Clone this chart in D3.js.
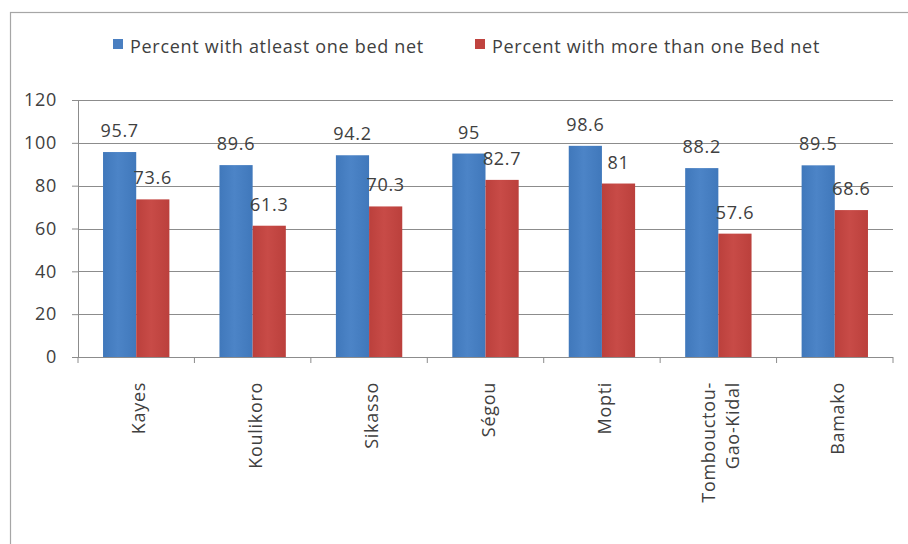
<!DOCTYPE html>
<html>
<head>
<meta charset="utf-8">
<script src="https://cdn.jsdelivr.net/npm/d3@7"></script>
<style>
  html, body { margin: 0; padding: 0; background: #fff; }
  svg { display: block; font-family: "Open Sans", "Liberation Sans", sans-serif; }
  svg text { letter-spacing: 0.7px; }
</style>
</head>
<body>
<svg id="chart" width="908" height="544"></svg>
<script>
// Bed net ownership by region
const regions = ["Kayes", "Koulikoro", "Sikasso", "Ségou", "Mopti", "Tombouctou-\nGao-Kidal", "Bamako"];
const atLeastOne = [95.7, 89.6, 94.2, 95, 98.6, 88.2, 89.5];
const moreThanOne = [73.6, 61.3, 70.3, 82.7, 81, 57.6, 68.6];
const seriesNames = ["Percent with atleast one bed net", "Percent with more than one Bed net"];
const yTicks = [0, 20, 40, 60, 80, 100, 120];

const svg = d3.select("#chart");
const W = 908, H = 544;
const margin = { left: 78, right: 15, top: 100, bottom: 187 };
const plotW = W - margin.left - margin.right;
const plotH = H - margin.top - margin.bottom;

const textColor = "#404040";
const gridColor = "#8c8c8c";
const fontSize = 18;

// outer chart frame
svg.append("rect")
  .attr("x", 10.5).attr("y", 12.5)
  .attr("width", W + 20).attr("height", H + 20)
  .attr("fill", "none").attr("stroke", "#a6a6a6").attr("stroke-width", 1.2);

const defs = svg.append("defs");
function barGradient(id, edge, mid) {
  const g = defs.append("linearGradient").attr("id", id)
    .attr("x1", "0%").attr("x2", "100%").attr("y1", "0%").attr("y2", "0%");
  g.append("stop").attr("offset", "0%").attr("stop-color", edge);
  g.append("stop").attr("offset", "45%").attr("stop-color", mid);
  g.append("stop").attr("offset", "100%").attr("stop-color", edge);
}
barGradient("gBlue", "#4078bb", "#4c84c7");
barGradient("gRed", "#bb403c", "#c84b47");
const fills = ["url(#gBlue)", "url(#gRed)"];
const swatch = ["#4a7fc1", "#c0433f"];

const g = svg.append("g").attr("transform", `translate(${margin.left},${margin.top})`);

const x0 = d3.scaleBand().domain(regions).range([0, plotW]).paddingInner(0.43).paddingOuter(0.215);
const x1 = d3.scaleBand().domain([0, 1]).range([0, x0.bandwidth()]);
const y = d3.scaleLinear().domain([0, 120]).range([plotH, 0]);

// horizontal gridlines
g.append("g")
  .selectAll("line").data(yTicks.filter(t => t > 0)).join("line")
  .attr("x1", 0).attr("x2", plotW)
  .attr("y1", d => Math.round(y(d)) + 0.5).attr("y2", d => Math.round(y(d)) + 0.5)
  .attr("stroke", gridColor).attr("stroke-width", 1);

// y axis
const yAxis = g.append("g")
  .call(d3.axisLeft(y).tickValues(yTicks).tickSize(6).tickPadding(15));
yAxis.select(".domain").attr("stroke", gridColor);
yAxis.selectAll(".tick line").attr("stroke", gridColor);
yAxis.selectAll(".tick text")
  .attr("fill", textColor).attr("font-size", fontSize)
  .style("font-family", "'Open Sans', sans-serif");

// x axis with ticks between categories
const xAxisG = g.append("g").attr("transform", `translate(0,${plotH})`);
xAxisG.append("line").attr("x1", 0).attr("x2", plotW).attr("y1", 0.5).attr("y2", 0.5)
  .attr("stroke", gridColor);
const step = x0.step();
const bounds = d3.range(regions.length + 1).map(i => x0(regions[0]) - x0.paddingOuter() * step + i * step);
xAxisG.selectAll("line.tk").data(bounds).join("line").attr("class", "tk")
  .attr("x1", d => d).attr("x2", d => d).attr("y1", 0).attr("y2", 6)
  .attr("stroke", gridColor);

// bars
const groups = g.selectAll("g.grp").data(regions).join("g").attr("class", "grp")
  .attr("transform", d => `translate(${x0(d)},0)`);
groups.each(function (r, i) {
  const vals = [atLeastOne[i], moreThanOne[i]];
  const grp = d3.select(this);
  grp.selectAll("rect").data(vals).join("rect")
    .attr("x", (d, k) => x1(k)).attr("width", x1.bandwidth())
    .attr("y", d => y(d)).attr("height", d => plotH - y(d))
    .attr("fill", (d, k) => fills[k]);
  grp.selectAll("text.val").data(vals).join("text").attr("class", "val")
    .attr("x", (d, k) => x1(k) + x1.bandwidth() / 2)
    .attr("y", d => y(d) - 15)
    .attr("text-anchor", "middle")
    .attr("fill", textColor).attr("font-size", fontSize)
    .text(d => d);
});

// category labels, rotated
const catG = g.append("g").attr("transform", `translate(0,${plotH + 25})`);
regions.forEach(r => {
  const lines = r.split("\n");
  const cx = x0(r) + x0.bandwidth() / 2 + 3;
  const t = catG.append("text")
    .attr("transform", `translate(${cx},0) rotate(-90)`)
    .attr("text-anchor", "end")
    .attr("fill", textColor).attr("font-size", fontSize);
  lines.forEach((ln, j) => {
    t.append("tspan")
      .attr("x", 0)
      .attr("dy", j === 0 ? (-(lines.length - 1) * 24 / 2 + 6) : 24)
      .text(ln);
  });
});

// legend
const legend = svg.append("g").attr("transform", "translate(0,47)");
const legendX = [113, 475];
seriesNames.forEach((name, k) => {
  const lg = legend.append("g").attr("transform", `translate(${legendX[k]},0)`);
  lg.append("rect").attr("x", 0).attr("y", -8).attr("width", 10).attr("height", 10)
    .attr("fill", swatch[k]);
  lg.append("text").attr("x", 17).attr("y", 0).attr("dy", "0.32em")
    .attr("fill", textColor).attr("font-size", fontSize).text(name);
});
</script>
</body>
</html>
